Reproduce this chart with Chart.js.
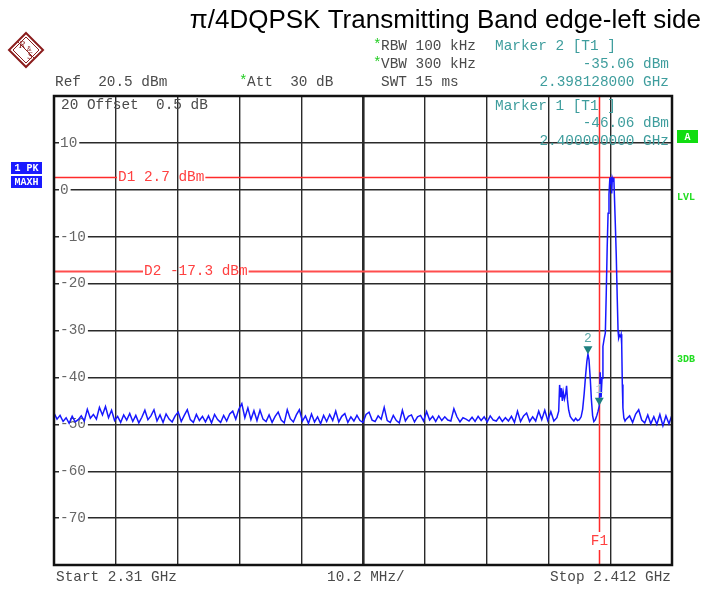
<!DOCTYPE html>
<html>
<head>
<meta charset="utf-8">
<script src="https://cdn.jsdelivr.net/npm/chart.js@4.4.1/dist/chart.umd.min.js"></script>
<style>
  html, body { margin: 0; padding: 0; background: #fff; }
  canvas { display: block; }
</style>
</head>
<body>
<canvas id="spectrum" width="706" height="589"></canvas>
<script>
// sweep 2.31 GHz .. 2.412 GHz, levels in dBm
const startMHz = 2310;
const stopMHz = 2412;

// noise floor left of the carrier, one value per 0.5 MHz from 2310 MHz
const leftFloorStartMHz = 2310;
const floorStepMHz = 0.5;
const leftFloorDbm = [
  -47.6, -48.9, -48.1, -49.4, -48.6, -49.8, -48.3, -49.5, -49.0, -48.2,
  -49.3, -46.8, -48.7, -47.9, -48.9, -46.4, -48.0, -46.2, -48.6, -47.0,
  -49.2, -48.3, -49.6, -48.0, -49.1, -47.7, -49.4, -48.1, -49.7, -48.5,
  -47.0, -49.0, -48.2, -46.9, -49.3, -48.0, -49.6, -47.8, -48.9, -49.5,
  -48.2, -47.4, -49.4, -48.1, -46.9, -49.0, -49.6, -47.9, -49.2, -48.3,
  -49.5, -48.2, -49.7, -47.9, -49.0, -49.6, -48.1, -49.3, -47.8, -47.2,
  -48.9, -46.8, -45.6, -48.6, -46.5, -49.0, -47.1, -49.2, -47.0, -48.9,
  -49.4, -48.0, -49.6, -48.3, -47.4, -49.1, -49.7, -46.9, -48.8, -49.5,
  -48.0, -46.9, -49.3, -48.2, -49.8, -47.8, -49.5, -48.4, -49.9, -48.1,
  -49.4, -47.9, -49.2, -47.2, -49.5, -48.3, -47.7, -49.6, -48.4, -49.3,
  -48.1, -49.2, -49.6, -47.9, -47.4, -49.1, -49.4, -48.2, -48.9, -46.4,
  -49.2, -49.6, -48.1, -49.2, -49.7, -47.0, -49.3, -48.3, -48.0, -49.5,
  -48.4, -48.1, -49.3, -47.3, -49.1, -48.3, -49.4, -48.2, -49.2, -48.4,
  -49.1, -49.3, -46.7, -48.4, -49.5, -48.6, -48.9, -49.3, -48.5, -49.4,
  -48.3, -49.2, -48.4, -49.5, -48.2, -49.1, -49.3, -48.4, -49.4, -48.6,
  -49.3, -48.3, -49.6, -47.2, -49.4, -48.2, -47.6, -49.4, -48.4, -49.3,
  -47.2, -49.0, -47.0, -49.2, -47.3, -49.3
];

// spurs, marker 2 bump and the carrier around 2.402 GHz
const signalMHz = [
  2393.0, 2393.3, 2393.45, 2393.6, 2393.75, 2393.9, 2394.05, 2394.25, 2394.45, 2394.6,
  2394.75, 2394.95, 2395.2, 2395.5, 2395.8, 2396.1, 2396.4, 2396.7, 2397.0, 2397.25,
  2397.5, 2397.75, 2397.95, 2398.128, 2398.3, 2398.5, 2398.7, 2398.9, 2399.1, 2399.35,
  2399.6, 2399.8, 2400.0, 2400.15, 2400.3, 2400.45, 2400.6, 2400.8, 2401.0, 2401.15,
  2401.3, 2401.45, 2401.6, 2401.75, 2401.85, 2401.95, 2402.05, 2402.15, 2402.3, 2402.4,
  2402.5, 2402.65, 2402.8, 2402.95, 2403.1, 2403.2, 2403.35, 2403.5, 2403.6, 2403.7,
  2403.8, 2403.9, 2404.05, 2404.25, 2404.45
];
const signalDbm = [
  -48.6, -47.2, -41.6, -44.2, -42.3, -45.0, -43.1, -44.6, -43.5, -41.8,
  -44.8, -47.0, -48.3, -48.9, -49.3, -48.7, -49.2, -49.0, -48.4, -46.8,
  -43.5, -39.4, -36.6, -35.06, -36.2, -40.1, -44.8, -48.2, -49.4, -49.0,
  -48.1, -47.2, -46.06, -38.9, -44.3, -40.2, -33.4, -31.8, -30.5, -22.0,
  -12.5, -5.0, -1.0, 2.6, 1.2, 2.7, -0.8, 2.5, 1.8, 2.6,
  -1.5, -7.5, -14.0, -22.5, -30.2, -31.6, -31.0, -31.3, -30.8, -33.0,
  -41.5, -46.5, -48.6, -49.3, -48.9
];

// noise floor right of the carrier, one value per 0.5 MHz from 2405 MHz
const rightFloorStartMHz = 2405;
const rightFloorDbm = [
  -48.2, -49.6, -47.8, -46.9, -49.1, -49.7, -48.0, -49.9, -48.4, -50.0,
  -47.9, -50.3, -48.2, -49.9, -48.0
];

// grid
const xGridMHz = [2320.2, 2330.4, 2340.6, 2350.8, 2361, 2371.2, 2381.4, 2391.6, 2401.8];
const centerMHz = 2361;
const yGridDbm = [10, 0, -10, -20, -30, -40, -50, -60, -70];
const refLevel = 20;
const bottomLevel = -80;

// display lines, frequency line and markers
const displayLineNames = ['D1', 'D2'];
const displayLineDbm = [2.7, -17.3];
const freqLineName = 'F1';
const freqLineMHz = 2400;
const markerNames = ['1', '2'];
const markerMHz = [2400.0, 2398.128];
const markerDbm = [-46.06, -35.06];

const MONO = '14.4px "Liberation Mono", "DejaVu Sans Mono", monospace';
const GRAY = '#4a4a4a';
const TEAL = '#3e9d9d';
const RED = '#ff2b2b';

const trace = []
  .concat(leftFloorDbm.map((v, i) => ({ x: leftFloorStartMHz + i * floorStepMHz, y: v })))
  .concat(signalDbm.map((v, i) => ({ x: signalMHz[i], y: v })))
  .concat(rightFloorDbm.map((v, i) => ({ x: rightFloorStartMHz + i * floorStepMHz, y: v })));

function text(ctx, s, x, y, color, align, font) {
  ctx.save();
  ctx.font = font || MONO;
  ctx.fillStyle = color;
  ctx.textAlign = align || 'left';
  ctx.textBaseline = 'middle';
  ctx.fillText(s, x, y);
  ctx.restore();
}

const analyzerOverlay = {
  id: 'analyzerOverlay',
  beforeDatasetsDraw(chart) {
    const { ctx, chartArea: a, scales: { x, y } } = chart;
    ctx.save();
    ctx.font = MONO;
    // D1 / D2 display lines, broken behind their labels
    const labelX = [a.left + 64, a.left + 90];
    displayLineNames.forEach((name, i) => {
      const py = Math.round(y.getPixelForValue(displayLineDbm[i])) + 0.5;
      const lbl = name + ' ' + displayLineDbm[i] + ' dBm';
      const w = ctx.measureText(lbl).width;
      ctx.strokeStyle = i === 0 ? RED : '#ff4d4d';
      ctx.lineWidth = i === 0 ? 1.5 : 2;
      ctx.beginPath();
      ctx.moveTo(a.left, py);
      ctx.lineTo(labelX[i] - 1, py);
      ctx.moveTo(labelX[i] + w + 1, py);
      ctx.lineTo(a.right, py);
      ctx.stroke();
      text(ctx, lbl, labelX[i], py, '#ff4040');
    });
    // F1 frequency line
    const fx = Math.round(x.getPixelForValue(freqLineMHz)) + 0.5;
    const fy = a.bottom - 24;
    ctx.strokeStyle = RED;
    ctx.lineWidth = 1.5;
    ctx.beginPath();
    ctx.moveTo(fx, a.top);
    ctx.lineTo(fx, fy - 9);
    ctx.moveTo(fx, fy + 9);
    ctx.lineTo(fx, a.bottom);
    ctx.stroke();
    text(ctx, freqLineName, fx, fy, '#ff4040', 'center');
    // text inside the grid
    text(ctx, '20 Offset  0.5 dB', a.left + 7, a.top + 9, GRAY);
    text(ctx, 'Marker 1 [T1 ]', 495, a.top + 10, TEAL);
    text(ctx, markerDbm[0].toFixed(2) + ' dBm', a.right - 3, a.top + 27, TEAL, 'right');
    text(ctx, (markerMHz[0] / 1000).toFixed(9) + ' GHz', a.right - 3, a.top + 45, TEAL, 'right');
    ctx.restore();
  },
  afterDatasetsDraw(chart) {
    const { ctx, chartArea: a, scales: { x, y } } = chart;
    ctx.save();
    // markers
    markerNames.forEach((name, i) => {
      const px = x.getPixelForValue(markerMHz[i]);
      const py = y.getPixelForValue(markerDbm[i]);
      ctx.fillStyle = '#1d7f7f';
      ctx.beginPath();
      ctx.moveTo(px, py);
      ctx.lineTo(px - 4.5, py - 8);
      ctx.lineTo(px + 4.5, py - 8);
      ctx.closePath();
      ctx.fill();
      text(ctx, name, px, py - 16, i === 0 ? '#a8cccc' : '#5aa8a8', 'center', '13px "Liberation Mono", monospace');
    });
    // frame
    ctx.strokeStyle = '#111';
    ctx.lineWidth = 2.5;
    ctx.strokeRect(a.left, a.top, a.right - a.left, a.bottom - a.top);
    ctx.restore();
  },
  afterDraw(chart) {
    const { ctx, chartArea: a } = chart;
    ctx.save();
    // title
    text(ctx, 'π/4DQPSK Transmitting Band edge-left side', 701, 21, '#000', 'right',
      '26px "Liberation Sans", Arial, sans-serif');
    // R&S logo
    const cx = 26, cy = 50, r = 17;
    ctx.strokeStyle = '#8b1d1d';
    ctx.lineWidth = 2;
    ctx.beginPath();
    ctx.moveTo(cx, cy - r); ctx.lineTo(cx + r, cy); ctx.lineTo(cx, cy + r); ctx.lineTo(cx - r, cy); ctx.closePath();
    ctx.stroke();
    ctx.lineWidth = 1;
    ctx.beginPath();
    ctx.moveTo(cx, cy - r + 4); ctx.lineTo(cx + r - 4, cy); ctx.lineTo(cx, cy + r - 4); ctx.lineTo(cx - r + 4, cy); ctx.closePath();
    ctx.moveTo(cx - 8, cy - 8); ctx.lineTo(cx + 8, cy + 8);
    ctx.stroke();
    text(ctx, 'R', cx - 4, cy - 5, '#8b1d1d', 'center', 'italic 10px "Liberation Serif", serif');
    text(ctx, '&', cx + 3, cy - 1, '#8b1d1d', 'center', '7px "Liberation Sans", sans-serif');
    text(ctx, 'S', cx + 4, cy + 6, '#8b1d1d', 'center', 'italic 10px "Liberation Serif", serif');
    // header
    text(ctx, '*', 373, 45, '#22cc22');
    text(ctx, 'RBW 100 kHz', 381, 46, GRAY);
    text(ctx, 'Marker 2 [T1 ]', 495, 46, TEAL);
    text(ctx, '*', 373, 63, '#22cc22');
    text(ctx, 'VBW 300 kHz', 381, 64, GRAY);
    text(ctx, markerDbm[1].toFixed(2) + ' dBm', 669, 64, TEAL, 'right');
    text(ctx, 'Ref  20.5 dBm', 55, 82, GRAY);
    text(ctx, '*', 239, 81, '#22cc22');
    text(ctx, 'Att  30 dB', 247, 82, GRAY);
    text(ctx, 'SWT 15 ms', 381, 82, GRAY);
    text(ctx, (markerMHz[1] / 1000).toFixed(9) + ' GHz', 669, 82, TEAL, 'right');
    // trace info boxes
    const small = 'bold 10px "Liberation Mono", monospace';
    ctx.fillStyle = '#1a1aff';
    ctx.fillRect(11, 162, 31, 12);
    ctx.fillRect(11, 176, 31, 12);
    text(ctx, '1 PK', 26.5, 168.5, '#fff', 'center', small);
    text(ctx, 'MAXH', 26.5, 182.5, '#fff', 'center', small);
    ctx.fillStyle = '#11dd11';
    ctx.fillRect(677, 130, 21, 13);
    text(ctx, 'A', 687.5, 137, '#fff', 'center', small);
    text(ctx, 'LVL', 677, 197, '#22dd22', 'left', small);
    text(ctx, '3DB', 677, 359, '#22dd22', 'left', small);
    // bottom line
    text(ctx, 'Start ' + (startMHz / 1000) + ' GHz', 56, a.bottom + 12, GRAY);
    text(ctx, ((stopMHz - startMHz) / 10).toFixed(1) + ' MHz/', 327, a.bottom + 12, GRAY);
    text(ctx, 'Stop ' + (stopMHz / 1000) + ' GHz', 671, a.bottom + 12, GRAY, 'right');
    ctx.restore();
  }
};

const ctx = document.getElementById('spectrum').getContext('2d');
const chart = new Chart(ctx, {
  type: 'line',
  data: {
    datasets: [{
      label: '1 PK MAXH',
      data: trace,
      borderColor: '#1717ff',
      borderWidth: 1.5,
      pointRadius: 0,
      tension: 0
    }]
  },
  options: {
    responsive: false,
    animation: false,
    layout: { padding: { left: 42, top: 96, right: 34, bottom: 24 } },
    plugins: {
      legend: { display: false },
      tooltip: { enabled: false }
    },
    scales: {
      x: {
        type: 'linear',
        min: startMHz,
        max: stopMHz,
        afterBuildTicks: scale => { scale.ticks = xGridMHz.map(v => ({ value: v })); },
        ticks: { display: false },
        grid: {
          drawTicks: false,
          color: '#2a2a2a',
          lineWidth: c => (c.tick && c.tick.value === centerMHz ? 2.6 : 1.4)
        },
        border: { display: false }
      },
      y: {
        min: bottomLevel,
        max: refLevel,
        afterBuildTicks: scale => { scale.ticks = yGridDbm.map(v => ({ value: v })); },
        ticks: {
          mirror: true,
          padding: 6,
          color: '#666',
          font: { family: '"Liberation Mono", monospace', size: 14.4 },
          showLabelBackdrop: true,
          backdropColor: '#fff',
          backdropPadding: { top: 0, bottom: 0, left: 1, right: 2 },
          callback: v => String(v)
        },
        grid: { drawTicks: false, color: '#2a2a2a', lineWidth: 1.4 },
        border: { display: false }
      }
    }
  },
  plugins: [analyzerOverlay]
});
</script>
</body>
</html>
